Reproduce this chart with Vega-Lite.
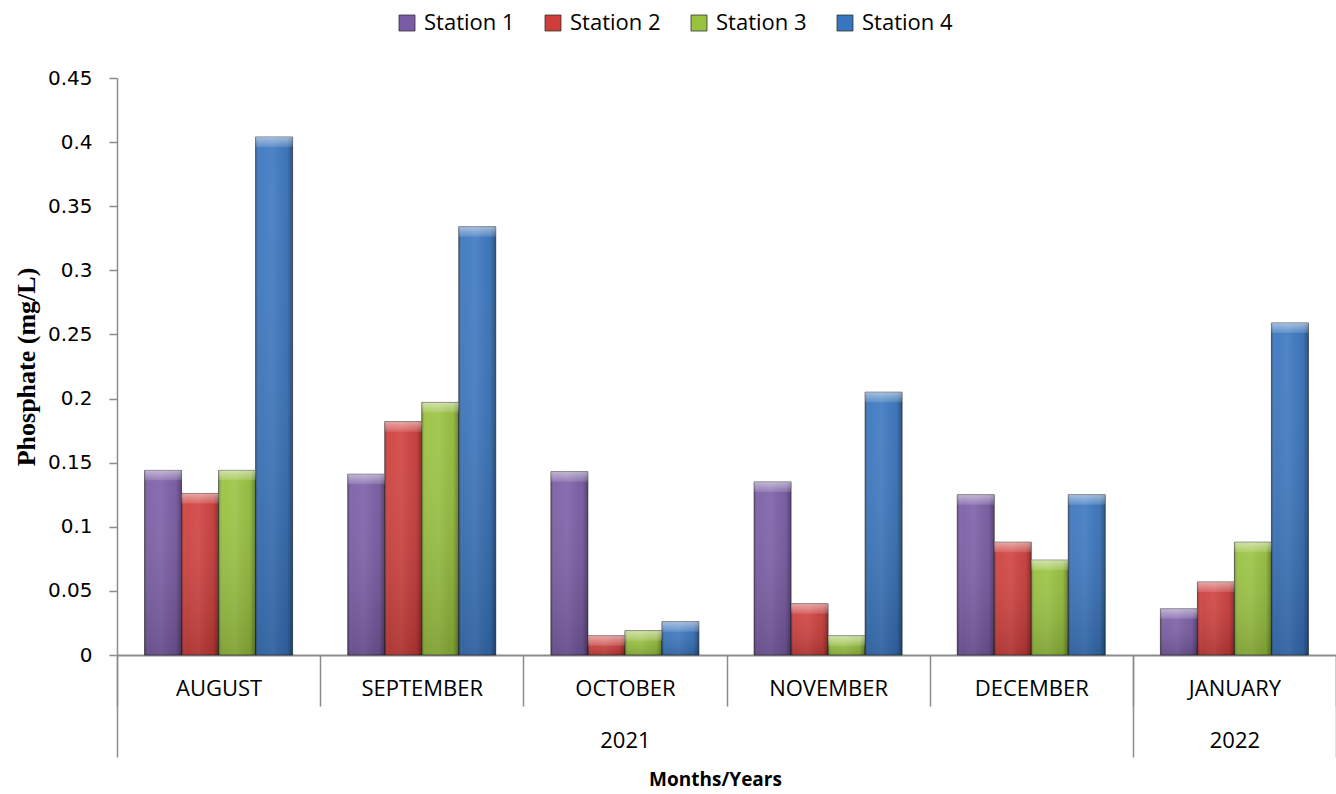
{
  "$schema": "https://vega.github.io/schema/vega-lite/v6.json",
  "width": 1219,
  "height": 577,
  "autosize": {"type": "none"},
  "padding": {"left": 117, "top": 78, "right": 0, "bottom": 139},
  "background": "white",
  "config": {"view": {"stroke": null}, "axis": {"grid": false}},
  "data": {
    "values": [
      {"month": "AUGUST", "year": "2021", "station": "Station 1", "value": 0.144},
      {"month": "AUGUST", "year": "2021", "station": "Station 2", "value": 0.126},
      {"month": "AUGUST", "year": "2021", "station": "Station 3", "value": 0.144},
      {"month": "AUGUST", "year": "2021", "station": "Station 4", "value": 0.404},
      {"month": "SEPTEMBER", "year": "2021", "station": "Station 1", "value": 0.141},
      {"month": "SEPTEMBER", "year": "2021", "station": "Station 2", "value": 0.182},
      {"month": "SEPTEMBER", "year": "2021", "station": "Station 3", "value": 0.197},
      {"month": "SEPTEMBER", "year": "2021", "station": "Station 4", "value": 0.334},
      {"month": "OCTOBER", "year": "2021", "station": "Station 1", "value": 0.143},
      {"month": "OCTOBER", "year": "2021", "station": "Station 2", "value": 0.015},
      {"month": "OCTOBER", "year": "2021", "station": "Station 3", "value": 0.019},
      {"month": "OCTOBER", "year": "2021", "station": "Station 4", "value": 0.026},
      {"month": "NOVEMBER", "year": "2021", "station": "Station 1", "value": 0.135},
      {"month": "NOVEMBER", "year": "2021", "station": "Station 2", "value": 0.04},
      {"month": "NOVEMBER", "year": "2021", "station": "Station 3", "value": 0.015},
      {"month": "NOVEMBER", "year": "2021", "station": "Station 4", "value": 0.205},
      {"month": "DECEMBER", "year": "2021", "station": "Station 1", "value": 0.125},
      {"month": "DECEMBER", "year": "2021", "station": "Station 2", "value": 0.088},
      {"month": "DECEMBER", "year": "2021", "station": "Station 3", "value": 0.074},
      {"month": "DECEMBER", "year": "2021", "station": "Station 4", "value": 0.125},
      {"month": "JANUARY", "year": "2022", "station": "Station 1", "value": 0.036},
      {"month": "JANUARY", "year": "2022", "station": "Station 2", "value": 0.057},
      {"month": "JANUARY", "year": "2022", "station": "Station 3", "value": 0.088},
      {"month": "JANUARY", "year": "2022", "station": "Station 4", "value": 0.259}
    ]
  },
  "resolve": {"axis": {"x": "independent"}},
  "layer": [
    {
      "mark": {"type": "bar", "stroke": "#1f1f1f", "strokeOpacity": 0.6, "strokeWidth": 1},
      "encoding": {
        "x": {
          "field": "month", "type": "nominal",
          "sort": ["AUGUST", "SEPTEMBER", "OCTOBER", "NOVEMBER", "DECEMBER", "JANUARY"],
          "scale": {"paddingInner": 0, "paddingOuter": 0},
          "axis": {
            "orient": "bottom",
            "title": null, "labelAngle": 0, "labelFont": "Open Sans", "labelFontSize": 22,
            "labelColor": "#000000", "labelPadding": -28, "tickBand": "extent", "tickSize": 51,
            "tickWidth": 1.5, "tickColor": "#8c8c8c", "domainColor": "#8c8c8c", "domainWidth": 2
          }
        },
        "xOffset": {"field": "station", "type": "nominal", "scale": {"paddingOuter": 0.745, "paddingInner": 0}},
        "y": {
          "field": "value", "type": "quantitative",
          "scale": {"domain": [0, 0.45], "nice": false},
          "axis": {
            "title": "Phosphate (mg/L)", "titleFont": "Liberation Serif", "titleFontSize": 26,
            "titleFontWeight": "bold", "titleColor": "#000000", "titlePadding": 8,
            "values": [0, 0.05, 0.1, 0.15, 0.2, 0.25, 0.3, 0.35, 0.4, 0.45], "format": "~g",
            "labelFont": "DejaVu Sans", "labelFontSize": 20, "labelColor": "#000000", "labelPadding": 17,
            "tickSize": 8, "tickColor": "#8c8c8c", "tickWidth": 1.5, "domainColor": "#8c8c8c", "domainWidth": 1.5
          }
        },
        "color": {
          "field": "station", "type": "nominal",
          "scale": {
            "domain": ["Station 1", "Station 2", "Station 3", "Station 4"],
            "range": ["#7a5ca6", "#cf3d3a", "#98c23d", "#3875bf"]
          },
          "legend": {
            "title": null, "orient": "none", "legendX": 279, "legendY": -66, "direction": "horizontal",
            "symbolType": "square", "symbolSize": 256, "symbolStrokeColor": "#333333", "symbolStrokeWidth": 0.8,
            "labelFont": "Open Sans", "labelFontSize": 22, "labelColor": "#000000", "labelOffset": 6, "columnPadding": 27
          }
        }
      }
    },
    {
      "mark": {
        "type": "bar",
        "fill": {
          "gradient": "linear", "x1": 0, "x2": 1, "y1": 0, "y2": 0,
          "stops": [
            {"offset": 0, "color": "rgba(0,0,0,0.25)"},
            {"offset": 0.12, "color": "rgba(255,255,255,0.03)"},
            {"offset": 0.45, "color": "rgba(255,255,255,0.08)"},
            {"offset": 0.85, "color": "rgba(0,0,0,0.05)"},
            {"offset": 1, "color": "rgba(0,0,0,0.35)"}
          ]
        }
      },
      "encoding": {
        "x": {"field": "month", "type": "nominal", "sort": ["AUGUST", "SEPTEMBER", "OCTOBER", "NOVEMBER", "DECEMBER", "JANUARY"], "axis": null},
        "xOffset": {"field": "station", "type": "nominal"},
        "y": {"field": "value", "type": "quantitative"}
      }
    },
    {
      "mark": {
        "type": "bar",
        "fill": {
          "gradient": "linear", "x1": 0, "x2": 0, "y1": 0, "y2": 1,
          "stops": [
            {"offset": 0, "color": "rgba(255,255,255,0.04)"},
            {"offset": 1, "color": "rgba(0,0,0,0.16)"}
          ]
        }
      },
      "encoding": {
        "x": {"field": "month", "type": "nominal", "sort": ["AUGUST", "SEPTEMBER", "OCTOBER", "NOVEMBER", "DECEMBER", "JANUARY"], "axis": null},
        "xOffset": {"field": "station", "type": "nominal"},
        "y": {"field": "value", "type": "quantitative"}
      }
    },
    {
      "mark": {
        "type": "bar", "y2Offset": 10,
        "fill": {
          "gradient": "linear", "x1": 0, "x2": 0, "y1": 0, "y2": 1,
          "stops": [
            {"offset": 0, "color": "rgba(255,255,255,0.5)"},
            {"offset": 1, "color": "rgba(255,255,255,0.12)"}
          ]
        }
      },
      "encoding": {
        "x": {
          "field": "month", "type": "nominal",
          "sort": ["AUGUST", "SEPTEMBER", "OCTOBER", "NOVEMBER", "DECEMBER", "JANUARY"],
          "axis": {
            "orient": "bottom",
            "title": "Months/Years", "titleFont": "Open Sans", "titleFontSize": 19, "titleFontWeight": "bold",
            "titleColor": "#000000", "titleX": 598, "titleY": 130, "titleBaseline": "alphabetic",
            "labelExpr": "datum.value === 'OCTOBER' ? '2021' : datum.value === 'JANUARY' ? '2022' : ''",
            "labelAngle": 0, "labelFont": "Open Sans", "labelFontSize": 22, "labelColor": "#000000",
            "labelPadding": -27, "tickBand": "extent", "tickSize": 102, "tickWidth": 1.5, "tickColor": "#8c8c8c",
            "tickOpacity": {"condition": {"test": "datum.value === 'DECEMBER' || datum.value === 'JANUARY' || !datum.value", "value": 1}, "value": 0},
            "domain": false
          }
        },
        "xOffset": {"field": "station", "type": "nominal"},
        "y": {"field": "value", "type": "quantitative"},
        "y2": {"field": "value"}
      }
    }
  ]
}
